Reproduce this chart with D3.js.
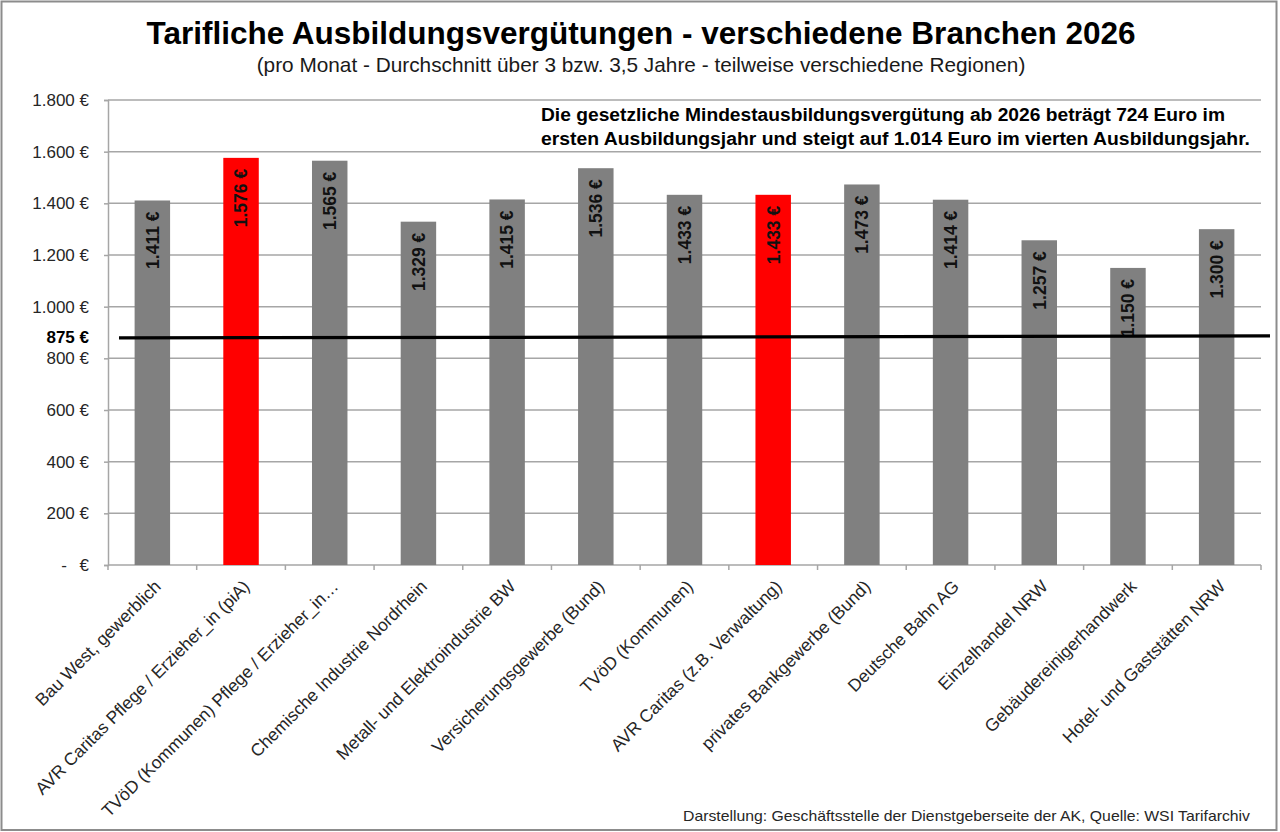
<!DOCTYPE html>
<html>
<head>
<meta charset="utf-8">
<script src="https://cdn.jsdelivr.net/npm/d3@7"></script>
<style>
  body { margin: 0; background: #fff; }
  svg { display: block; font-family: "Liberation Sans", Arial, sans-serif; }
</style>
</head>
<body>
<svg id="chart" width="1280" height="832"></svg>
<script>
  // data
  var branchen = [
    'Bau West, gewerblich',
    'AVR Caritas Pflege / Erzieher_in (piA)',
    'TVöD (Kommunen) Pflege / Erzieher_in…',
    'Chemische Industrie Nordrhein',
    'Metall- und Elektroindustrie BW',
    'Versicherungsgewerbe (Bund)',
    'TVöD (Kommunen)',
    'AVR Caritas (z.B. Verwaltung)',
    'privates Bankgewerbe (Bund)',
    'Deutsche Bahn AG',
    'Einzelhandel NRW',
    'Gebäudereinigerhandwerk',
    'Hotel- und Gaststätten NRW'
  ]
  var verguetung = [1411, 1576, 1565, 1329, 1415, 1536, 1433, 1433, 1473, 1414, 1257, 1150, 1300]
  var hervorgehoben = [false, true, false, false, false, false, false, true, false, false, false, false, false]
  var yTicks = [0, 200, 400, 600, 800, 1000, 1200, 1400, 1600, 1800]
  var referenzWert = 875

  var title = 'Tarifliche Ausbildungsvergütungen - verschiedene Branchen 2026'
  var subtitle = '(pro Monat - Durchschnitt über 3 bzw. 3,5 Jahre - teilweise verschiedene Regionen)'
  var hinweis = [
    'Die gesetzliche Mindestausbildungsvergütung ab 2026 beträgt 724 Euro im',
    'ersten Ausbildungsjahr und steigt auf 1.014 Euro im vierten Ausbildungsjahr.'
  ]
  var quelle = 'Darstellung: Geschäftsstelle der Dienstgeberseite der AK, Quelle: WSI Tarifarchiv'

  var plotL = 108, plotR = 1261, plotT = 100, plotB = 565

  var svg = d3.select('#chart')

  // outer frame
  svg.append('rect')
    .attr('x', 1.5).attr('y', 1.5)
    .attr('width', 1275).attr('height', 828.5)
    .attr('fill', '#fff')
    .attr('stroke', '#8c8c8c')
    .attr('stroke-width', 2)

  var x = d3.scaleBand()
    .domain(branchen)
    .range([plotL, plotR])
    .paddingInner(0.6)
    .paddingOuter(0.3)

  var y = d3.scaleLinear()
    .domain([0, 1800])
    .range([plotB, plotT])

  function euro(v){
    return d3.format(',')(v).replace(/,/g, '.') + ' €'
  }

  ////////// GRIDLINES //////////
  svg.append('g')
    .selectAll('line')
    .data(yTicks.slice(1))
    .enter()
    .append('line')
    .attr('x1', plotL).attr('x2', plotR)
    .attr('y1', function(d){ return y(d) })
    .attr('y2', function(d){ return y(d) })
    .attr('stroke', '#a6a6a6')
    .attr('stroke-width', 1.5)

  ////////// Y AXIS //////////
  var yAxis = svg.append('g')
    .attr('transform', 'translate(' + plotL + ',0)')
    .call(d3.axisLeft(y).tickValues(yTicks).tickSize(4).tickPadding(15)
      .tickFormat(function(d){ return d === 0 ? '' : euro(d) }))
  yAxis.select('.domain').attr('stroke', '#a6a6a6').attr('stroke-width', 1.5)
  yAxis.selectAll('.tick line').attr('stroke', '#a6a6a6').attr('stroke-width', 1.5)
  yAxis.selectAll('.tick text')
    .attr('font-size', 17)
    .attr('fill', '#262626')
    .attr('font-family', '"Liberation Sans", Arial, sans-serif')

  // the zero label in accounting style
  svg.append('text')
    .attr('x', 64).attr('y', y(0)).attr('dy', '0.35em')
    .attr('font-size', 17).attr('fill', '#262626')
    .attr('text-anchor', 'middle')
    .text('-')
  svg.append('text')
    .attr('x', 89).attr('y', y(0)).attr('dy', '0.35em')
    .attr('font-size', 17).attr('fill', '#262626')
    .attr('text-anchor', 'end')
    .text('€')

  ////////// X AXIS //////////
  var step = x.step()
  svg.append('line')
    .attr('x1', plotL).attr('x2', plotR)
    .attr('y1', plotB).attr('y2', plotB)
    .attr('stroke', '#a6a6a6').attr('stroke-width', 1.5)

  svg.append('g')
    .selectAll('line')
    .data(d3.range(branchen.length + 1))
    .enter()
    .append('line')
    .attr('x1', function(i){ return plotL + i * step })
    .attr('x2', function(i){ return plotL + i * step })
    .attr('y1', plotB).attr('y2', plotB + 5)
    .attr('stroke', '#a6a6a6').attr('stroke-width', 1.5)

  svg.append('g')
    .selectAll('text')
    .data(branchen)
    .enter()
    .append('text')
    .attr('transform', function(d){
      return 'translate(' + (x(d) + x.bandwidth() / 2 + 1) + ',' + (plotB + 14) + ') rotate(-45)'
    })
    .attr('text-anchor', 'end')
    .attr('dy', '0.7em')
    .attr('font-size', 17.5)
    .attr('fill', '#262626')
    .text(function(d){ return d })

  ////////// BARS //////////
  var bars = svg.append('g')
    .selectAll('g')
    .data(verguetung)
    .enter()
    .append('g')

  bars.append('rect')
    .attr('x', function(d, i){ return x(branchen[i]) })
    .attr('y', function(d){ return y(d) })
    .attr('width', x.bandwidth())
    .attr('height', function(d){ return y(0) - y(d) })
    .attr('fill', function(d, i){ return hervorgehoben[i] ? '#ff0000' : '#808080' })

  bars.append('text')
    .attr('transform', function(d, i){
      return 'translate(' + (x(branchen[i]) + x.bandwidth() / 2) + ',' + (y(d) + 11) + ') rotate(-90)'
    })
    .attr('text-anchor', 'end')
    .attr('dy', '0.36em')
    .attr('font-size', 17.5)
    .attr('font-weight', 'bold')
    .attr('fill', '#111')
    .text(function(d){ return euro(d) })

  ////////// REFERENCE LINE //////////
  svg.append('line')
    .attr('x1', 119).attr('x2', 1270)
    .attr('y1', y(referenzWert) - 1).attr('y2', y(referenzWert) - 3)
    .attr('stroke', '#000')
    .attr('stroke-width', 3.2)

  svg.append('text')
    .attr('x', 89).attr('y', y(referenzWert) - 2).attr('dy', '0.35em')
    .attr('text-anchor', 'end')
    .attr('font-size', 17)
    .attr('font-weight', 'bold')
    .attr('fill', '#000')
    .text(euro(referenzWert))

  ////////// TITLES //////////
  svg.append('text')
    .attr('x', 641).attr('y', 44)
    .attr('text-anchor', 'middle')
    .attr('font-size', 31.5)
    .attr('font-weight', 'bold')
    .attr('fill', '#000')
    .text(title)

  svg.append('text')
    .attr('x', 641).attr('y', 72)
    .attr('text-anchor', 'middle')
    .attr('font-size', 20.8)
    .attr('fill', '#1a1a1a')
    .text(subtitle)

  // note box
  svg.append('g')
    .selectAll('text')
    .data(hinweis)
    .enter()
    .append('text')
    .attr('x', 541)
    .attr('y', function(d, i){ return 121 + i * 24 })
    .attr('font-size', 17.5)
    .attr('font-weight', 'bold')
    .attr('fill', '#000')
    .attr('textLength', function(d, i){ return i === 0 ? 684 : 709 })
    .attr('lengthAdjust', 'spacingAndGlyphs')
    .text(function(d){ return d })

  svg.append('text')
    .attr('x', 1250).attr('y', 821)
    .attr('text-anchor', 'end')
    .attr('font-size', 14.5)
    .attr('fill', '#262626')
    .attr('textLength', 567)
    .attr('lengthAdjust', 'spacingAndGlyphs')
    .text(quelle)
</script>
</body>
</html>
